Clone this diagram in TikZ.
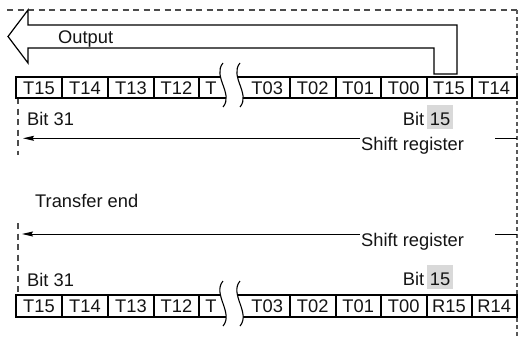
\documentclass[tikz,border=0pt]{standalone}
\usepackage{fontspec}
\setmainfont{Liberation Sans}
\usetikzlibrary{arrows.meta}
\definecolor{hl}{gray}{0.85}
\definecolor{ink}{gray}{0.08}
\newcommand\drawregister[6]{%
  % #1 top y, #2 bottom y, #3 text baseline, #4 name prefix, #5 #6 last two labels
  \draw[frame] (16,#1) rectangle (517,#2);
  \foreach \x in {62,108,154,199,290,335.5,381,426.5,471.5}
    \draw[frame] (\x,#1) -- (\x,#2);
  \foreach \x/\t/\n in {39/T15/a,85/T14/b,131/T13/c,176.5/T12/d,211/T/e,267.25/T03/f,312.75/T02/g,358.25/T01/h,403.75/T00/i,449/#5/j,494.25/#6/k}
    \node[lbl] (#4\n) at (\x,#3) {\t};
  \fill[white] (223,{#1-14}) .. controls (212,{#1-14+13}) and (234,{#2+9-13}) .. (223,{#2+9})
     -- (240,{#2+9}) .. controls (251,{#2+9-13}) and (229,{#1-14+13}) .. (240,{#1-14}) -- cycle;
  \draw[wave] (223,{#1-14}) .. controls (212,{#1-14+13}) and (234,{#2+9-13}) .. (223,{#2+9});
  \draw[wave] (240,{#1-14}) .. controls (229,{#1-14+13}) and (251,{#2+9-13}) .. (240,{#2+9});
}
\begin{document}
\begin{tikzpicture}[x=1pt,y=-1pt,
  lbl/.style={inner sep=0pt, anchor=base, text=ink, font=\fontsize{18.3}{20}\selectfont},
  frame/.style={line width=2pt, black},
  guide/.style={dash pattern=on 6pt off 4.5pt, line width=1.1pt, black!70},
  rguide/.style={dash pattern=on 4pt off 3pt, line width=1.4pt, black!65},
  flow/.style={line width=1pt, black, -{Stealth[length=11pt,width=5pt,inset=1.5pt]}},
  plain/.style={line width=1pt, black},
  wave/.style={line width=1.1pt, black},
  bigarrow/.style={line width=1.2pt, black, fill=white},
  mark15/.style={lbl, fill=hl, inner xsep=3pt, inner ysep=0pt, text height=20pt, text depth=4pt}]
\useasboundingbox (0,0) rectangle (518,337);

% dashed guides
\coordinate (tl) at (7,10);
\coordinate (tr) at (517,10);
\coordinate (br) at (517,337);
\draw[guide] (tl) -- (tr);
\draw[rguide] (tr) -- (br);
\coordinate (la1) at (18,98);
\coordinate (la2) at (18,155);
\coordinate (lb1) at (18,223);
\coordinate (lb2) at (18,295);
\draw[guide] (la1) -- (la2);
\draw[guide] (lb1) -- (lb2);

% big output arrow
\draw[bigarrow] (8,36.5) -- (28,10) -- (28,25) -- (457,25) -- (457,74) -- (434,74)
  -- (434,48) -- (28,48) -- (28,63) -- cycle;
\node[lbl, anchor=base west] (out) at (58,43.5) {Output};

% top register
\drawregister{77}{98}{94}{ra}{T15}{T14}
\node[lbl, anchor=base west] (b31a) at (27,125) {Bit 31};
\node[lbl, anchor=base east] (bita) at (424.5,125) {Bit};
\node[mark15] (n15a) at (440,125) {15};

% shift register 1
\node[lbl, anchor=base west] (sr1) at (361,150.5) {Shift register};
\coordinate (s1r) at (517,138.3);
\coordinate (s1g) at (495,138.3);
\coordinate (s1l) at (360,138.3);
\coordinate (s1t) at (23,138.3);
\draw[plain] (s1r) -- (s1g);
\draw[flow] (s1l) -- (s1t);

\node[lbl, anchor=base west] (te) at (35,207) {Transfer end};

% shift register 2
\node[lbl, anchor=base west] (sr2) at (361,246.5) {Shift register};
\coordinate (s2r) at (517,234);
\coordinate (s2g) at (495,234);
\coordinate (s2l) at (360,234);
\coordinate (s2t) at (22,234);
\draw[plain] (s2r) -- (s2g);
\draw[flow] (s2l) -- (s2t);

% bottom register
\node[lbl, anchor=base west] (b31b) at (27,286) {Bit 31};
\node[lbl, anchor=base east] (bitb) at (424.5,285) {Bit};
\node[mark15] (n15b) at (440,285) {15};
\drawregister{295}{317}{312}{rb}{R15}{R14}
\end{tikzpicture}
\end{document}
